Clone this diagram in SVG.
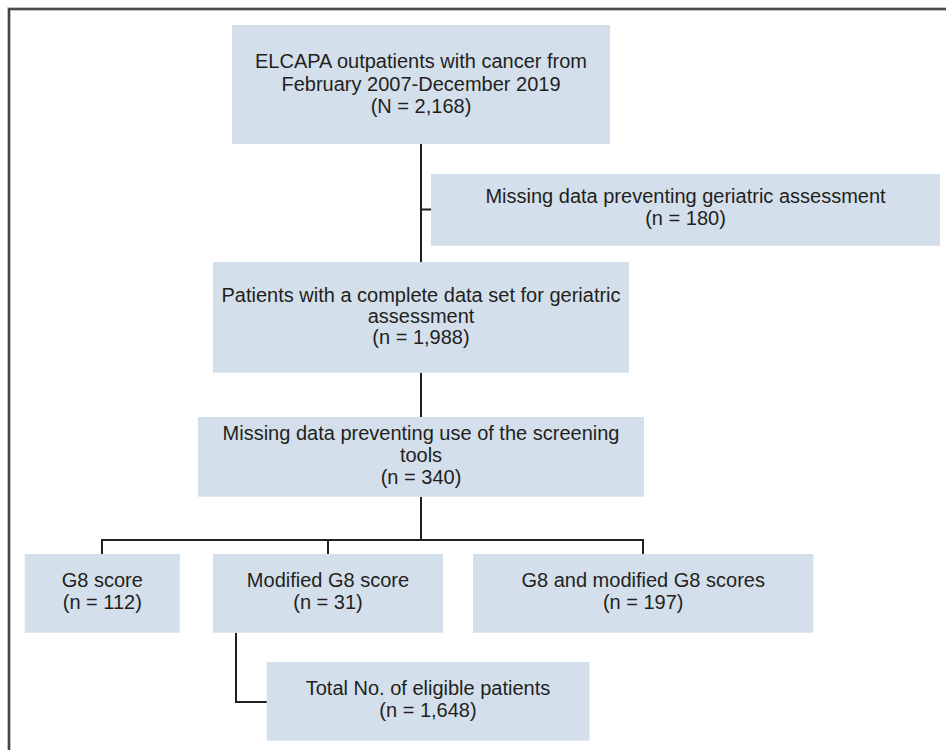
<svg xmlns="http://www.w3.org/2000/svg" width="946" height="750" viewBox="0 0 946 750">
<style>
.box{fill:#d4dfec;}
.t{font-family:"Liberation Sans",Arial,sans-serif;font-size:20px;fill:#231f20;text-anchor:middle;}
.c{fill:none;stroke:#231f20;stroke-width:2;}
</style>
<rect width="946" height="750" fill="#ffffff"/>
<path d="M9,750 V9 H946" fill="none" stroke="#b0b0b0" stroke-width="3.5"/>
<path d="M9,750 V9 H946" fill="none" stroke="#2a2a2a" stroke-width="1.6"/>
<g id="connectors">
<path class="c" d="M421,144 V262"/>
<path class="c" d="M421,209.5 H431"/>
<path class="c" d="M421,372.7 V417"/>
<path class="c" d="M421,496.7 V540"/>
<path class="c" d="M102,554 V540 H643 V554"/>
<path class="c" d="M328,540 V554"/>
<path class="c" d="M236,632.7 V702 H267"/>
</g>
<g id="n1">
<rect class="box" x="232" y="25" width="378" height="119"/>
<text class="t" x="421" y="68">ELCAPA outpatients with cancer from</text>
<text class="t" x="421" y="91">February 2007-December 2019</text>
<text class="t" x="421" y="113">(N = 2,168)</text>
</g>
<g id="n2">
<rect class="box" x="431" y="174" width="509" height="71.7"/>
<text class="t" x="685.5" y="203">Missing data preventing geriatric assessment</text>
<text class="t" x="685.5" y="225">(n = 180)</text>
</g>
<g id="n3">
<rect class="box" x="213" y="262" width="416" height="110.7"/>
<text class="t" x="421" y="301.7">Patients with a complete data set for geriatric</text>
<text class="t" x="421" y="322.7">assessment</text>
<text class="t" x="421" y="344">(n = 1,988)</text>
</g>
<g id="n4">
<rect class="box" x="198" y="417" width="446" height="79.7"/>
<text class="t" x="421" y="440">Missing data preventing use of the screening</text>
<text class="t" x="421" y="461.7">tools</text>
<text class="t" x="421" y="484.3">(n = 340)</text>
</g>
<g id="n5">
<rect class="box" x="24.7" y="554" width="155.1" height="78.7"/>
<text class="t" x="102.3" y="586.7">G8 score</text>
<text class="t" x="102.3" y="609">(n = 112)</text>
</g>
<g id="n6">
<rect class="box" x="213" y="554" width="230" height="78.7"/>
<text class="t" x="328" y="586.7">Modified G8 score</text>
<text class="t" x="328" y="609">(n = 31)</text>
</g>
<g id="n7">
<rect class="box" x="473" y="554" width="340.5" height="78.7"/>
<text class="t" x="643.2" y="586.7">G8 and modified G8 scores</text>
<text class="t" x="643.2" y="609">(n = 197)</text>
</g>
<g id="n8">
<rect class="box" x="266.7" y="662" width="322.9" height="78.7"/>
<text class="t" x="428" y="695">Total No. of eligible patients</text>
<text class="t" x="428" y="717">(n = 1,648)</text>
</g>
</svg>
